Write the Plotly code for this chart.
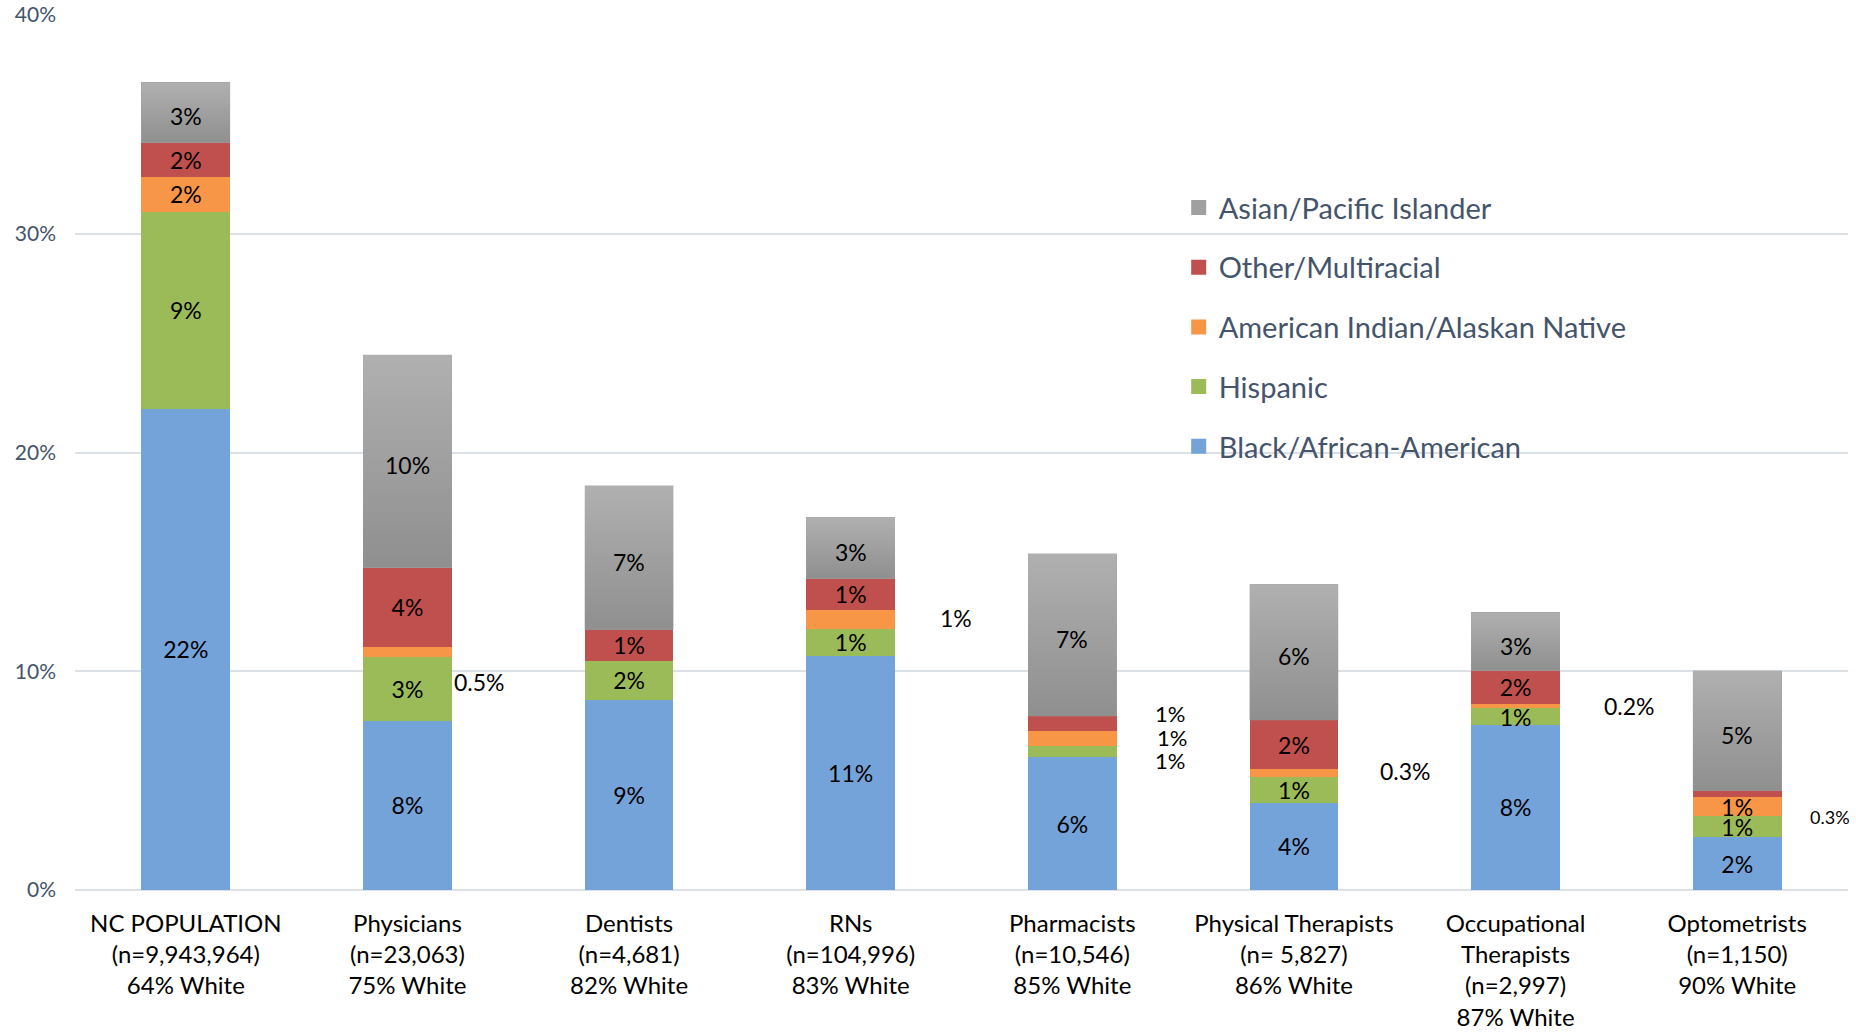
import plotly.graph_objects as go

# Workforce groups shown on the x axis
professions = ["NC POPULATION", "Physicians", "Dentists", "RNs", "Pharmacists",
               "Physical Therapists", "Occupational<br>Therapists", "Optometrists"]
counts = ["(n=9,943,964)", "(n=23,063)", "(n=4,681)", "(n=104,996)", "(n=10,546)",
          "(n= 5,827)", "(n=2,997)", "(n=1,150)"]
white_share = ["64% White", "75% White", "82% White", "83% White", "85% White",
               "86% White", "87% White", "90% White"]

# Percent of each group by race / ethnicity (non-white groups only)
black = [22.0, 7.74, 8.70, 10.71, 6.06, 3.98, 7.55, 2.41]
hispanic = [9.01, 2.92, 1.78, 1.23, 0.54, 1.19, 0.76, 0.97]
american_indian = [1.60, 0.47, 0.0, 0.84, 0.68, 0.34, 0.21, 0.87]
other_multi = [1.56, 3.61, 1.42, 1.46, 0.66, 2.25, 1.51, 0.29]
asian_pi = [2.75, 9.73, 6.59, 2.80, 7.44, 6.22, 2.66, 5.49]

series_names = ["Black/African-American", "Hispanic", "American Indian/Alaskan Native",
                "Other/Multiracial", "Asian/Pacific Islander"]
series_values = [black, hispanic, american_indian, other_multi, asian_pi]
series_colors = ["#74A3DA", "#9BBB59", "#F79646", "#C0504D", "#A0A0A0"]
gray_gradient = [[0, "#8F8F8F"], [1, "#B0B0B0"]]

labels = [f"{p}<br>{c}<br>{w}" for p, c, w in zip(professions, counts, white_share)]
xpos = list(range(len(labels)))
BAR_W = 0.4
LABEL_FONT = dict(family="Lato", size=23, color="black")

# Thin segments whose value is written beside the bar instead of inside it:
# (series index, category index, label height in % units, x shift px, decimals, font size)
side_labels = [
    (2, 1, 9.5, 72, 1, 23),
    (2, 3, 12.45, 105, 0, 23),
    (3, 4, 8.05, 98, 0, 22),
    (2, 4, 6.95, 100, 0, 22),
    (1, 4, 5.9, 98, 0, 22),
    (2, 5, 5.46, 112, 1, 23),
    (2, 6, 8.39, 114, 1, 23),
    (3, 7, 3.35, 93, 1, 18),
]
side_set = {(s, c) for s, c, *_ in side_labels}

fig = go.Figure()
GRAY = len(series_names) - 1
for si, (name, vals, color) in enumerate(zip(series_names, series_values, series_colors)):
    text = []
    for ci, v in enumerate(vals):
        if v <= 0 or (si, ci) in side_set or si == GRAY:
            text.append("")
        else:
            text.append(f"{v:.0f}%")
    fig.add_trace(go.Bar(
        x=xpos, y=vals, name=name, width=BAR_W,
        marker=dict(color=color, line=dict(width=0)),
        text=text, textposition="inside", insidetextanchor="middle",
        textangle=0, constraintext="none", textfont=LABEL_FONT,
        showlegend=False, hoverinfo="skip",
    ))
    # legend entry with a larger square swatch
    fig.add_trace(go.Scatter(
        x=[None], y=[None], mode="markers", name=name,
        marker=dict(symbol="square", size=15, color=color),
        legendgroup=name, legendrank=len(series_names) - si,
        hoverinfo="skip",
    ))

# Asian/Pacific Islander segments get a vertical grey gradient fill
bases = [sum(series_values[k][ci] for k in range(GRAY)) for ci in xpos]
for ci in xpos:
    lo, hi = bases[ci], bases[ci] + asian_pi[ci]
    fig.add_trace(go.Scatter(
        x=[ci - BAR_W / 2, ci + BAR_W / 2, ci + BAR_W / 2, ci - BAR_W / 2, ci - BAR_W / 2],
        y=[lo, lo, hi, hi, lo],
        mode="none", fill="toself",
        fillgradient=dict(type="vertical", colorscale=gray_gradient, start=lo, stop=hi),
        showlegend=False, hoverinfo="skip",
    ))
    fig.add_annotation(
        x=ci, y=lo + asian_pi[ci] / 2, xref="x", yref="y", yshift=-4,
        text=f"{asian_pi[ci]:.0f}%", showarrow=False, font=LABEL_FONT,
    )

for si, ci, ypos, dx, dec, size in side_labels:
    val = series_values[si][ci]
    fig.add_annotation(
        x=ci, y=ypos, xref="x", yref="y",
        text=f"{val:.{dec}f}%", showarrow=False, xshift=dx,
        font=dict(family="Lato", size=size, color="black"),
    )

fig.update_layout(
    width=1856, height=1032,
    barmode="stack",
    margin=dict(l=75, r=8, t=15, b=142),
    paper_bgcolor="white", plot_bgcolor="white",
    font=dict(family="Lato", color="black"),
    uniformtext=dict(minsize=23, mode="show"),
    legend=dict(
        traceorder="grouped", tracegroupgap=19,
        x=0.6225, y=0.809, xanchor="left", yanchor="top",
        bgcolor="rgba(0,0,0,0)",
        font=dict(family="Lato", size=29, color="#44546A"),
    ),
    showlegend=True,
)
fig.update_xaxes(
    range=[-0.5, len(labels) - 0.5], tickvals=xpos, ticktext=labels,
    showgrid=False, showline=False, zeroline=False, ticks="", automargin=False,
    tickfont=dict(family="Lato", size=24, color="black"),
    ticklabelstandoff=17,
)
fig.update_yaxes(
    range=[0, 40], dtick=10, ticksuffix="%", automargin=False,
    showgrid=True, gridcolor="#DCE1E8", gridwidth=1.5,
    zeroline=True, zerolinecolor="#DCE1E8", zerolinewidth=1.5,
    showline=False, ticks="",
    tickfont=dict(family="Lato", size=21, color="#44546A"),
    ticklabelstandoff=18,
)

fig.write_html("out.html", post_script="document.body.style.margin='0';")
